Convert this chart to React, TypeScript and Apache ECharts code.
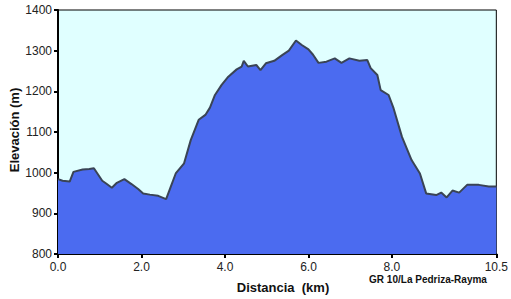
import React, { useEffect, useRef } from "react";
import * as echarts from "echarts";

const distanceKm = [
  0.0, 0.11, 0.28, 0.37, 0.59, 0.75, 0.86, 1.06, 1.17, 1.29, 1.41, 1.59, 1.76, 1.92, 2.04, 2.2, 2.4, 2.59,
  2.7, 2.82, 3.02, 3.18, 3.37, 3.53, 3.64, 3.76, 3.92, 4.08, 4.28, 4.4, 4.45, 4.55, 4.65, 4.75, 4.85, 4.98,
  5.18, 5.37, 5.53, 5.7, 5.84, 6.0, 6.11, 6.24, 6.43, 6.63, 6.79, 6.98, 7.22, 7.41, 7.49, 7.65, 7.73, 7.92,
  8.04, 8.24, 8.47, 8.67, 8.82, 9.06, 9.18, 9.31, 9.45, 9.61, 9.8, 10.08, 10.32, 10.5,
];
const elevationM = [
  984, 980, 978, 1002, 1008, 1009, 1011, 980, 972, 963, 975, 984, 972, 960, 949, 946, 943, 935,
  965, 998, 1023, 1080, 1130, 1142, 1160, 1191, 1216, 1236, 1254, 1261, 1275, 1261, 1263, 1265, 1252, 1269,
  1275, 1289, 1300, 1325, 1314, 1303, 1290, 1270, 1273, 1281, 1270, 1281, 1275, 1277, 1257, 1240, 1203, 1191,
  1158, 1088, 1031, 998, 949, 945, 951, 939, 956, 951, 970, 970, 966, 966,
];
const xTickValues = [0, 2, 4, 6, 8, 10.5];
const xTitle = "Distancia  (km)";
const yTitle = "Elevación (m)";
const trackName = "GR 10/La Pedriza-Rayma";

const FONT = "Arial, 'Liberation Sans', sans-serif";

export default function App() {
  const ref = useRef<HTMLDivElement>(null);
  useEffect(() => {
    if (!ref.current) return;
    const chart = echarts.init(ref.current, null, { renderer: "svg" });
    chart.setOption({
      animation: false,
      grid: {
        left: 58,
        right: 5,
        top: 10,
        bottom: 45,
        show: true,
        backgroundColor: "#e0ffff",
        borderColor: "#000",
        borderWidth: 1,
      },
      xAxis: {
        type: "value",
        min: 0,
        max: 10.5,
        axisLine: { show: true, lineStyle: { color: "#000", width: 2 } },
        axisTick: { show: true, length: 4, lineStyle: { color: "#000", width: 2 }, customValues: xTickValues },
        axisLabel: {
          color: "#222",
          fontFamily: FONT,
          fontSize: 12,
          margin: 7,
          customValues: xTickValues,
          formatter: (v: number) => v.toFixed(1),
        },
        splitLine: { show: false },
      },
      yAxis: {
        type: "value",
        min: 800,
        max: 1400,
        interval: 100,
        axisLine: { show: true, lineStyle: { color: "#000", width: 2 } },
        axisTick: { show: true, length: 4, lineStyle: { color: "#000", width: 2 } },
        axisLabel: {
          color: "#222",
          fontFamily: FONT,
          fontSize: 12,
          margin: 6,
          formatter: (v: number) => String(v),
        },
        splitLine: { show: false },
      },
      series: [
        {
          type: "line",
          data: distanceKm.map((d, i) => [d, elevationM[i]]),
          showSymbol: false,
          lineStyle: { color: "#3a4455", width: 2 },
          areaStyle: { color: "#4b6bf0", opacity: 1, origin: "start" },
        },
      ],
      graphic: [
        {
          type: "text",
          x: 14,
          y: 130,
          rotation: Math.PI / 2,
          style: {
            text: yTitle,
            fontFamily: FONT,
            fontSize: 13,
            fontWeight: "bold",
            fill: "#111",
            textAlign: "center",
            textVerticalAlign: "middle",
          },
        },
        {
          type: "text",
          x: 283,
          y: 287,
          style: {
            text: xTitle,
            fontFamily: FONT,
            fontSize: 13,
            fontWeight: "bold",
            fill: "#111",
            textAlign: "center",
            textVerticalAlign: "middle",
          },
        },
        {
          type: "text",
          x: 428,
          y: 279,
          style: {
            text: trackName,
            fontFamily: FONT,
            fontSize: 10,
            fontWeight: "bold",
            fill: "#111",
            textAlign: "center",
            textVerticalAlign: "middle",
          },
        },
      ],
    });
    return () => chart.dispose();
  }, []);
  return <div ref={ref} style={{ width: 511, height: 299, position: "absolute", left: 0, top: 0 }} />;
}
